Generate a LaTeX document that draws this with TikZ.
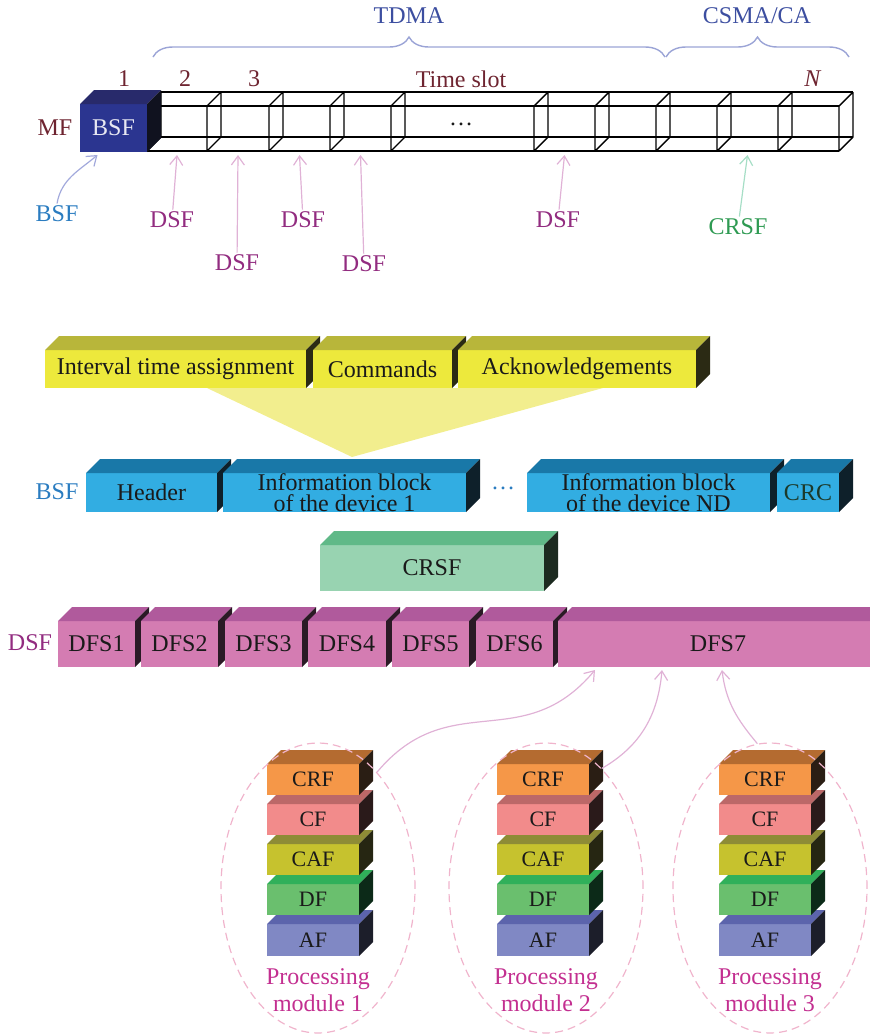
\documentclass[tikz,border=0pt]{standalone}
\usepackage{fontspec}
\setmainfont{Liberation Serif}
\usetikzlibrary{arrows.meta,shapes.geometric,decorations.pathreplacing}

\definecolor{ink}{HTML}{1A1A1A}
\definecolor{mar}{HTML}{6E2430}
\definecolor{macC}{HTML}{3C4EA0}
\definecolor{braceC}{HTML}{9BA4D6}
\definecolor{bsfC}{HTML}{2A7CC0}
\definecolor{dsfC}{HTML}{922C80}
\definecolor{crsfC}{HTML}{2E9A52}
\definecolor{procC}{HTML}{C32F90}
\definecolor{ellC}{HTML}{F0B4CC}
\definecolor{pinkA}{HTML}{E0B2D6}
\definecolor{blueA}{HTML}{A2A9DC}
\definecolor{greenA}{HTML}{A6DEC6}
\definecolor{funnelC}{HTML}{F2EE8E}
\definecolor{bsfText}{HTML}{E8E8F2}
\definecolor{crcC}{HTML}{1C3A2A}
% faces: F front, T top, S side
\definecolor{bsfF}{HTML}{2B3590}\definecolor{bsfT}{HTML}{282A6B}\definecolor{bsfS}{HTML}{10121F}
\definecolor{yelF}{HTML}{EDE93C}\definecolor{yelT}{HTML}{B8B63A}\definecolor{yelS}{HTML}{2B2A14}
\definecolor{bluF}{HTML}{32ADE2}\definecolor{bluT}{HTML}{1978A8}\definecolor{bluS}{HTML}{0E202A}
\definecolor{grnF}{HTML}{98D3B1}\definecolor{grnT}{HTML}{60B988}\definecolor{grnS}{HTML}{1C2A20}
\definecolor{pnkF}{HTML}{D47CB2}\definecolor{pnkT}{HTML}{B05A9C}\definecolor{pnkS}{HTML}{2A1A25}
\definecolor{crfF}{HTML}{F59748}\definecolor{crfT}{HTML}{B46B30}\definecolor{crfS}{HTML}{2A1E14}
\definecolor{cfF}{HTML}{F28B8B}\definecolor{cfT}{HTML}{BC6868}\definecolor{cfS}{HTML}{2A1A1A}
\definecolor{cafF}{HTML}{C6C22E}\definecolor{cafT}{HTML}{8E8C36}\definecolor{cafS}{HTML}{262612}
\definecolor{dfF}{HTML}{6ABF6E}\definecolor{dfT}{HTML}{30B05A}\definecolor{dfS}{HTML}{0C2A18}
\definecolor{afF}{HTML}{8088C4}\definecolor{afT}{HTML}{5C64AC}\definecolor{afS}{HTML}{1C1E2A}

\tikzset{
  slab/.style={font=\fontsize{12}{10.8}\selectfont, text=ink, align=center, inner sep=0pt, outer sep=0pt},
  small slab/.style={font=\fontsize{11}{11}\selectfont},
  lbl/.style={font=\fontsize{12}{13.5}\selectfont, inner sep=1pt, align=center},
  up arrow/.style={-{Straight Barb[length=4.5pt,width=6.5pt]}, line width=0.6pt},
  wire/.style={line width=0.7pt, draw=black},
  mbrace/.style={decorate, decoration={brace, amplitude=10pt}, draw=braceC, line width=0.7pt},
  module/.style={ellipse, draw=ellC, dash pattern=on 4pt off 2.5pt, line width=0.6pt,
    minimum width=97pt, minimum height=145pt, inner sep=0pt},
}

% 3D block: [opts]{name}{left}{right}{top}{bottom}{colour}{text}
\newcommand{\slab}[8][]{%
  \fill[#7F] (#3,#5) rectangle (#4,#6);
  \fill[#7T] (#3,#5) -- ++(14,-14) -- ({#4+14},{#5-14}) -- (#4,#5) -- cycle;
  \fill[#7S] (#4,#5) -- ++(14,-14) -- ({#4+14},{#6-14}) -- (#4,#6) -- cycle;
  \node[slab, minimum width={((#4)-(#3))*0.5pt}, minimum height={((#6)-(#5))*0.5pt}, #1]
    (#2) at ({((#3)+(#4))/2},{((#5)+(#6))/2}) {#8};
}

\begin{document}
\begin{tikzpicture}[x=0.5pt,y=-0.5pt]
\useasboundingbox (0,0) rectangle (869,1035);

% access periods
\draw[mbrace] (153,57) -- (665,57);
\draw[mbrace] (666,57) -- (849,57);
\node[lbl, text=macC] (tdma) at (409,16) {TDMA};
\node[lbl, text=macC] (csma) at (757,16) {CSMA/CA};

% multiframe time slots
\foreach \x in {147,207,269,330,391,534,595,656,717,778,839} {
  \draw[wire] (\x,106) -- (\x,151) (\x,106) -- ++(14,-14) (\x,151) -- ++(14,-14)
    ({\x+14},92) -- ({\x+14},137);
}
\draw[wire] (147,106) -- (839,106) (147,151) -- (839,151) (161,92) -- (853,92) (161,137) -- (853,137);
\foreach \l/\r [count=\i] in {147/207,207/269,269/330,330/391,391/534,534/595,595/656,656/717,717/778,778/839}
  \coordinate (slot\i) at ({(\l+\r)/2},155);
\node[lbl, text=ink] (tdots) at (461,124) {\dots};

\slab[text=bsfText]{bsfblk}{80}{147}{104}{152}{bsf}{BSF}

\node[lbl, text=mar] (mf) at (55,128) {MF};
\node[lbl, text=mar] (num1) at (124,79) {1};
\node[lbl, text=mar] (num2) at (185,79) {2};
\node[lbl, text=mar] (num3) at (254,79) {3};
\node[lbl, text=mar] (tslot) at (461,79) {Time slot};
\node[lbl, text=mar] (numN) at (813,79) {\textit{N}};

% superframes in the slots
\node[lbl, text=bsfC] (bsflab) at (57,214) {BSF};
\node[lbl, text=dsfC] (dsfa) at (172,220) {DSF};
\node[lbl, text=dsfC] (dsfb) at (237,263) {DSF};
\node[lbl, text=dsfC] (dsfc) at (303,220) {DSF};
\node[lbl, text=dsfC] (dsfd) at (364,264) {DSF};
\node[lbl, text=dsfC] (dsfe) at (558,220) {DSF};
\node[lbl, text=crsfC] (crsflab) at (738,227) {CRSF};

\draw[up arrow, blueA] (bsflab.north) to[out=80,in=-140] ([xshift=-8pt,yshift=-1.5pt]bsfblk.south);
\draw[up arrow, pinkA] (dsfa) -- (slot1);
\draw[up arrow, pinkA] (dsfb) -- (slot2);
\draw[up arrow, pinkA] (dsfc) -- (slot3);
\draw[up arrow, pinkA] (dsfd) -- (slot4);
\draw[up arrow, pinkA] (dsfe) -- (slot6);
\draw[up arrow, greenA] (crsflab) -- (slot9);

% BSF contents
\fill[funnelC] (207,388) -- (352,457) -- (603,388) -- cycle;
\slab{ita}{45}{306}{350}{388}{yel}{Interval time assignment}
\slab{cmd}{313}{452}{350}{388}{yel}{Commands}
\slab{ack}{458}{696}{350}{388}{yel}{Acknowledgements}

\node[lbl, text=bsfC] (bsfrow) at (57,492) {BSF};
\slab{hdr}{86}{217}{473}{512}{blu}{Header}
\slab{ib1}{223}{466}{473}{512}{blu}{Information block\\of the device 1}
\node[lbl, text=bsfC] (bdots) at (503,488) {\dots};
\slab{ibn}{527}{770}{473}{512}{blu}{Information block\\of the device ND}
\slab[text=crcC]{crc}{777}{839}{473}{512}{blu}{CRC}

\slab{crsf}{320}{544}{545}{591}{grn}{CRSF}

% DSF contents
\node[lbl, text=dsfC] (dsfrow) at (30,643) {DSF};
\foreach \l/\r [count=\i] in {58/135,141/218,225/302,308/386,392/469,476/553}
  {\slab{dfs\i}{\l}{\r}{621}{667}{pnk}{DFS\i}}
\slab{dfs7}{558}{878}{621}{667}{pnk}{DFS7}

% processing modules
\foreach \sx/\k in {267/1,497/2,719/3} {
  \slab[small slab]{af\k}{\sx}{\sx+92}{924}{956}{af}{AF}
  \slab[small slab]{df\k}{\sx}{\sx+92}{884}{915}{df}{DF}
  \slab[small slab]{caf\k}{\sx}{\sx+92}{844}{875}{caf}{CAF}
  \slab[small slab]{cf\k}{\sx}{\sx+92}{804}{835}{cf}{CF}
  \slab[small slab]{crf\k}{\sx}{\sx+92}{764}{795}{crf}{CRF}
}
\foreach \cx/\k in {318/1,546/2,770/3} {
  \node[module] (pm\k) at (\cx,888) {};
  \node[lbl, text=procC] (pml\k) at (\cx,990) {Processing\\module \k};
}

\coordinate (in1) at (595,670);
\coordinate (in2) at (662,670);
\coordinate (in3) at (722,670);
\draw[up arrow, pinkA] (pm1.63) to[out=50,in=-130,looseness=1.2] (in1);
\draw[up arrow, pinkA] (pm2.65) to[out=30,in=-95] (in2);
\draw[up arrow, pinkA] (pm3.95) to[out=130,in=-83] (in3);

\end{tikzpicture}
\end{document}
